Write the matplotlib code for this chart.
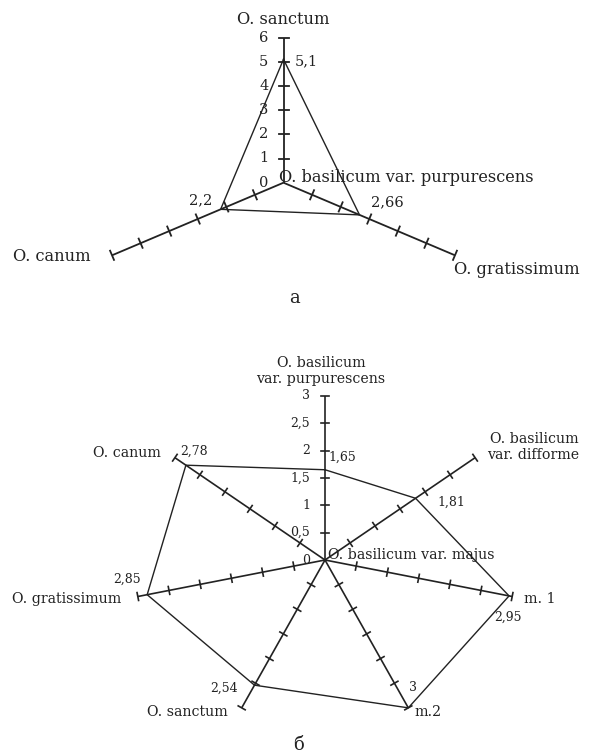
import numpy as np
import matplotlib
matplotlib.use("Agg")
import matplotlib.pyplot as plt

plt.rcParams["font.family"] = ["DejaVu Serif"]

# chart а
a_labels = ["O. sanctum", "O. gratissimum", "O. canum"]
a_values = [5.1, 2.66, 2.2]
a_value_text = ["5,1", "2,66", "2,2"]
a_ticks = [0, 1, 2, 3, 4, 5, 6]
a_center_label = "O. basilicum var. purpurescens"

# chart б
b_labels = ["O. basilicum\nvar. purpurescens", "O. basilicum\nvar. difforme", "m. 1", "m.2",
            "O. sanctum", "O. gratissimum", "O. canum"]
b_values = [1.65, 1.81, 2.95, 3, 2.54, 2.85, 2.78]
b_value_text = ["1,65", "1,81", "2,95", "3", "2,54", "2,85", "2,78"]
b_ticks = [0, 0.5, 1, 1.5, 2, 2.5, 3]
b_center_label = "O. basilicum var. majus"

INK = "#222222"

fig = plt.figure(figsize=(5.93, 7.56), dpi=100)
ax = fig.add_axes([0, 0, 1, 1])
ax.set_xlim(0, 593)
ax.set_ylim(756, 0)
ax.axis("off")


def radar(center, scale, values, ticks, tick_len, lw_axis, fs_ticks):
    n = len(values)
    cx, cy = center
    sx, sy = scale
    rmax = ticks[-1]
    step = ticks[1] - ticks[0]
    angles = np.pi / 2 - 2 * np.pi * np.arange(n) / n

    def pt(r, ang):
        return cx + r * sx * np.cos(ang), cy - r * sy * np.sin(ang)

    ends = []
    for i, ang in enumerate(angles):
        x1, y1 = pt(rmax, ang)
        ax.plot([cx, x1], [cy, y1], color=INK, lw=lw_axis, solid_capstyle="butt")
        d = np.array([x1 - cx, y1 - cy])
        d = d / np.hypot(*d)
        perp = np.array([-d[1], d[0]])
        for r in np.arange(step, rmax + step / 2, step):
            tx, ty = pt(r, ang)
            h = tick_len
            ax.plot([tx - perp[0] * h, tx + perp[0] * h], [ty - perp[1] * h, ty + perp[1] * h],
                    color=INK, lw=lw_axis)
        ends.append((x1, y1))

    # value polygon
    px, py = pt(np.array(values), angles)
    ax.plot(np.append(px, px[0]), np.append(py, py[0]), color=INK, lw=1.0)

    # scale labels on the vertical axis
    for t in ticks:
        s = ("%g" % t).replace(".", ",")
        ax.text(cx - 15, cy - t * sy, s, ha="right", va="center", fontsize=fs_ticks, color=INK)
    return ends, list(zip(px, py))


# ---- chart а ----
FA = 11.7
ends, pts = radar((283.5, 182.7), (33.0, 24.2), a_values, a_ticks, 5, 1.3, 10.5)
ax.text(ends[0][0], ends[0][1] - 18, a_labels[0], ha="center", va="center", fontsize=FA, color=INK)
ax.text(ends[1][0] - 1, ends[1][1] + 14, a_labels[1], ha="left", va="center", fontsize=FA, color=INK)
ax.text(ends[2][0] - 21, ends[2][1] + 1, a_labels[2], ha="right", va="center", fontsize=FA, color=INK)
ax.text(pts[0][0] + 11, pts[0][1] + 2, a_value_text[0], ha="left", va="center", fontsize=10.5, color=INK)
ax.text(pts[1][0] + 11, pts[1][1] - 13, a_value_text[1], ha="left", va="center", fontsize=10.5, color=INK)
ax.text(pts[2][0] - 8, pts[2][1] - 9, a_value_text[2], ha="right", va="center", fontsize=10.5, color=INK)
ax.text(279, 178, a_center_label, ha="left", va="center", fontsize=FA, color=INK)
ax.text(294, 298, "а", ha="center", va="center", fontsize=13, color=INK)

# ---- chart б ----
FB = 10.2
ends, pts = radar((325, 560), (64.0, 54.7), b_values, b_ticks, 4, 1.2, 9)
lab_off = [(-4, -25, "center"), (104, -11, "right"), (12, 2, "left"), (6, 4, "left"),
           (-14, 4, "right"), (-17, 2, "right"), (-14, -5, "right")]
for (x, y), lab, (dx, dy, ha) in zip(ends, b_labels, lab_off):
    ax.text(x + dx, y + dy, lab, ha=ha, va="center", fontsize=FB, color=INK,
            multialignment=ha, linespacing=1.15)
val_off = [(3, -12, "left"), (22, 4, "left"), (-15, 21, "left"), (1, -20, "left"),
           (-17, 3, "right"), (-6, -15, "right"), (-6, -14, "left")]
for (x, y), s, (dx, dy, ha) in zip(pts, b_value_text, val_off):
    ax.text(x + dx, y + dy, s, ha=ha, va="center", fontsize=9, color=INK)
ax.text(328, 555, b_center_label, ha="left", va="center", fontsize=FB, color=INK)
ax.text(299, 745, "б", ha="center", va="center", fontsize=13, color=INK)

fig.savefig("out.png", dpi=100, facecolor="white")
